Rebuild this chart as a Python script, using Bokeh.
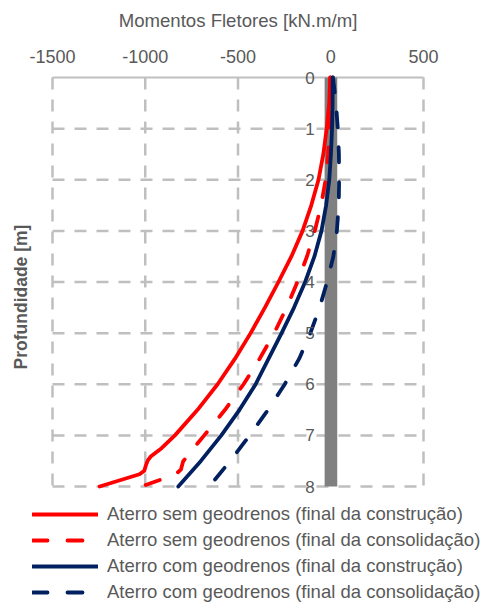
import math
from bokeh.plotting import figure
from bokeh.models import (Range1d, Legend, LegendItem, LabelSet, Label, ColumnDataSource)
from bokeh.core.properties import value
from bokeh.embed import file_html
from bokeh.resources import INLINE

# Bending moments along the wall depth [kN.m/m]
x_ticks = [-1500, -1000, -500, 0, 500]
depth_ticks = [0, 1, 2, 3, 4, 5, 6, 7, 8]

sem_constr_depth = [0, 0.5, 1, 1.5, 2, 2.5, 3, 3.5, 4, 4.5, 5, 5.5, 6, 6.5, 7, 7.25, 7.41, 7.48, 7.58, 7.69, 7.76, 8.0]
sem_constr_moment = [-3, -8, -22, -40, -66, -105, -152, -212, -282, -355, -432, -516, -610, -718, -840, -912, -969, -985, -996, -1005, -1031, -1246]

sem_consol_depth = [0, 0.5, 1, 1.5, 2, 2.5, 3, 3.5, 4, 4.5, 5, 5.5, 6, 6.5, 7, 7.25, 7.51, 7.67, 7.77, 8.0]
sem_consol_moment = [-2, -3, -7, -14, -28, -52, -86, -128, -180, -238, -305, -383, -470, -570, -682, -739, -796, -808, -839, -1022]

com_constr_depth = [0, 0.5, 1, 1.5, 2, 2.5, 3, 3.5, 4, 4.5, 5, 5.5, 6, 6.5, 7, 7.5, 8.0]
com_constr_moment = [10, 10, 7, 1, -8, -25, -50, -88, -138, -198, -265, -335, -405, -492, -590, -700, -822]

com_consol_depth = [0, 0.5, 1, 1.5, 2, 2.5, 3, 3.5, 4, 4.5, 5, 5.5, 6, 6.5, 7, 7.5, 8.0]
com_consol_moment = [12, 28, 38, 44, 45, 43, 33, 14, -20, -60, -110, -170, -248, -338, -437, -542, -655]

# Wall section drawn as a grey band
wall_left, wall_right = -33, 35
axis_cross = 0

series_labels = [
    "Aterro sem geodrenos (final da construção)",
    "Aterro sem geodrenos (final da consolidação)",
    "Aterro com geodrenos (final da construção)",
    "Aterro com geodrenos (final da consolidação)",
]
x_title = "Momentos Fletores [kN.m/m]"
y_title = "Profundidade [m]"

FONT = "Liberation Sans"
TXT = "#595959"
GRID = "#BFBFBF"
RED = "#FF0000"
NAVY = "#002060"

# page and plot-area geometry (pixels)
W, H = 484, 603
PAD_L, PAD_R, PAD_T, PAD_B = 52, 61, 77, 117

x_min, x_max = x_ticks[0], x_ticks[-1]
d_min, d_max = depth_ticks[0], depth_ticks[-1]
kx = (W - PAD_L - PAD_R) / (x_max - x_min)
ky = (H - PAD_T - PAD_B) / (d_max - d_min)

# the frame spans the whole page so that titles, labels and legend are not clipped
p = figure(width=W, height=H,
           x_range=Range1d(x_min - PAD_L / kx, x_max + PAD_R / kx),
           y_range=Range1d(d_max + PAD_B / ky, d_min - PAD_T / ky),
           x_axis_location=None, y_axis_location=None,
           output_backend="svg", toolbar_location=None,
           min_border=0)
p.outline_line_color = None
p.grid.visible = False
p.background_fill_color = "white"
p.border_fill_color = "white"

# dashed grid
n_x = len(x_ticks)
n_d = len(depth_ticks) - 1
p.segment(x0=x_ticks, y0=[d_min] * n_x, x1=x_ticks, y1=[d_max] * n_x,
          line_color=GRID, line_width=2.5, line_dash="12 10")
p.segment(x0=[x_min] * n_d, y0=depth_ticks[1:], x1=[x_max] * n_d, y1=depth_ticks[1:],
          line_color=GRID, line_width=2.5, line_dash="12 10")
# horizontal axis line at the top
p.segment(x0=[x_min], y0=[d_min], x1=[x_max], y1=[d_min], line_color=GRID, line_width=2)

# wall
p.quad(left=wall_left, right=wall_right, top=d_min, bottom=d_max,
       fill_color="#808080", line_color=None)

r1 = p.line(sem_constr_moment, sem_constr_depth, line_color=RED, line_width=3.8, line_cap="round", line_join="round")
r2 = p.line(sem_consol_moment, sem_consol_depth, line_color=RED, line_width=3.8, line_dash="15 20", line_cap="round", line_join="round")
r3 = p.line(com_constr_moment, com_constr_depth, line_color=NAVY, line_width=3.8, line_cap="round", line_join="round")
r4 = p.line(com_consol_moment, com_consol_depth, line_color=NAVY, line_width=3.8, line_dash="15 20", line_cap="round", line_join="round")

# tick labels of the moment axis
xt_src = ColumnDataSource(dict(x=x_ticks, y=[d_min] * n_x, t=[str(v) for v in x_ticks]))
p.add_layout(LabelSet(x="x", y="y", text="t", source=xt_src, y_offset=21,
                      text_font=value(FONT), text_font_size=value("18px"), text_color=TXT,
                      text_align="center", text_baseline="middle"))

# depth labels sitting on the vertical axis at x = 0
dt_src = ColumnDataSource(dict(x=[axis_cross] * len(depth_ticks), y=depth_ticks,
                               t=[str(d) for d in depth_ticks]))
p.add_layout(LabelSet(x="x", y="y", text="t", source=dt_src, x_offset=-16,
                      text_font=value(FONT), text_font_size=value("17px"), text_color=TXT,
                      text_align="right", text_baseline="middle"))

# axis titles
p.add_layout(Label(x=(x_min + x_max) / 2, y=d_min, y_offset=57, text=x_title,
                   text_font=FONT, text_font_size="18.6px", text_color=TXT,
                   text_align="center", text_baseline="middle"))
p.add_layout(Label(x=x_min, y=(d_min + d_max) / 2, x_offset=-32, y_offset=-15, text=y_title,
                   angle=math.pi / 2, text_font=FONT, text_font_size="17.5px",
                   text_font_style="bold", text_color=TXT,
                   text_align="center", text_baseline="middle"))

legend = Legend(items=[LegendItem(label=lab, renderers=[r]) for lab, r in zip(series_labels, [r1, r2, r3, r4])],
                location=(32, 0), orientation="vertical",
                glyph_width=66, glyph_height=20, label_height=20, label_standoff=9,
                spacing=4, padding=0, margin=0,
                label_text_font=FONT, label_text_font_size="18.5px", label_text_color=TXT,
                border_line_color=None, background_fill_alpha=0)
p.add_layout(legend, "center")

open("out.html", "w").write(file_html(p, INLINE))
